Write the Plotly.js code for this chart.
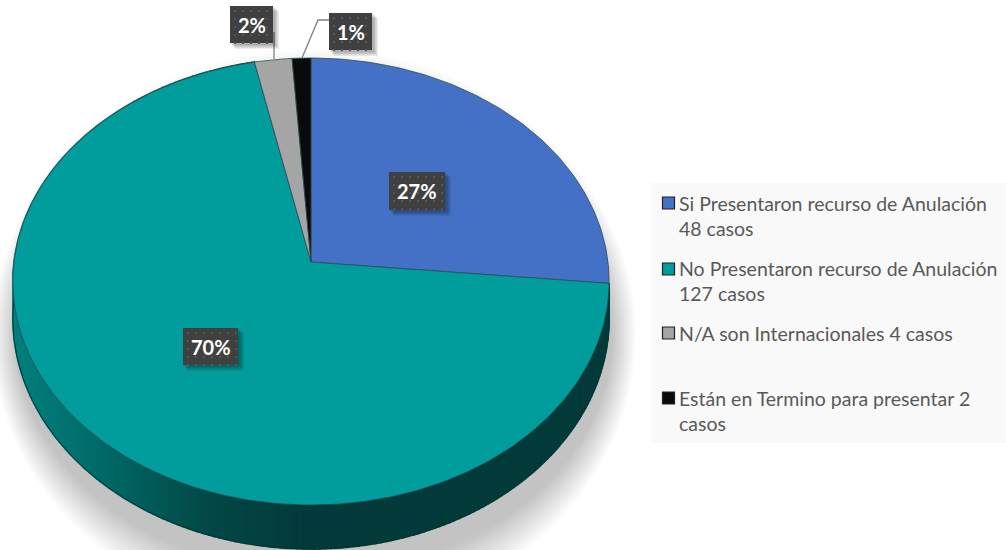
<!DOCTYPE html>
<html><head><meta charset="utf-8">
<script src="https://cdn.plot.ly/plotly-3.0.1.min.js"></script>
<style>html,body{margin:0;padding:0;background:#fff}#c{width:1006px;height:550px}</style>
</head><body><div id="c"></div>
<script>
const categories = ["Si Presentaron recurso de Anulación<br>48 casos","No Presentaron recurso de Anulación<br>127 casos","N/A son Internacionales 4 casos","Están en Termino para presentar 2<br>casos"];
const values = [48,127,4,2];
const percentLabels = ["27%","70%","2%","1%"];
const sliceColors = ["#4471c5","#019c9c","#a5a5a5","#0a0a0a"];
const FONT = "Lato, Carlito, sans-serif";

// pie geometry: perspective disc projected on the page
const cx=311, cy=262, b=297, a0=221.8, k=0.0872;
function proj(deg){const t=deg*Math.PI/180,u=Math.sin(t),v=Math.cos(t),w=1+k*v;return [cx+b*u/w, cy-a0*v/w, v];}
const total=values.reduce((s,v)=>s+v,0);
const traces=[];

// soft shadow under the pie
const N=30;
for(let i=0;i<N;i++){
  const t=1-i/(N-1), rx=298+t*24, ry=238+t*48, X=[],Y=[];
  for(let d=0;d<=360;d+=3){const r=d*Math.PI/180;X.push(314+rx*Math.cos(r));Y.push(335+ry*Math.sin(r));}
  traces.push({type:"scatter",x:X,y:Y,mode:"none",fill:"toself",fillcolor:"rgba(110,100,100,0.0135)",hoverinfo:"skip",showlegend:false});
}

// side wall of the disc
const wallStops=[[13,[0,128,125]],[100,[0,106,103]],[200,[2,74,72]],[300,[3,58,58]],[620,[3,58,58]]];
function wallColor(x){
  for(let i=1;i<wallStops.length;i++){
    if(x<=wallStops[i][0]){
      const [x0,c0]=wallStops[i-1],[x1,c1]=wallStops[i],f=Math.max(0,(x-x0)/(x1-x0));
      return "rgb("+c0.map((c,j)=>Math.round(c+(c1[j]-c)*f)).join(",")+")";
    }
  }
  return "rgb(3,58,58)";
}
const depth=v=>36+8*Math.max(0,-v);
const wallStart=values[0]/total*360, wallEnd=(values[0]+values[1])/total*360, step=1;
const edgeX=[],edgeY=[];
for(let d=wallStart;d<wallEnd;d+=step){
  const p=proj(d),q=proj(Math.min(d+step,wallEnd)),col=wallColor((p[0]+q[0])/2);
  traces.push({type:"scatter",x:[p[0],q[0],q[0],p[0],p[0]],y:[p[1],q[1],q[1]+depth(q[2]),p[1]+depth(p[2]),p[1]],
    mode:"lines",fill:"toself",fillcolor:col,line:{color:col,width:1.6},hoverinfo:"skip",showlegend:false});
  edgeX.push(p[0]);edgeY.push(p[1]+depth(p[2]));
}
traces.push({type:"scatter",x:edgeX,y:edgeY,mode:"lines",line:{color:"#043535",width:1},hoverinfo:"skip",showlegend:false});

// top face slices
let acc=0;
values.forEach((v,i)=>{
  const s=acc/total*360,e=(acc+v)/total*360;acc+=v;
  const X=[cx],Y=[cy];
  for(let d=s;d<e;d+=1){const p=proj(d);X.push(p[0]);Y.push(p[1]);}
  const p=proj(e);X.push(p[0],cx);Y.push(p[1],cy);
  traces.push({type:"scatter",x:X,y:Y,name:categories[i],mode:"lines",fill:"toself",fillcolor:sliceColors[i],
    line:{color:"#2c4a55",width:0.8},hoverinfo:"skip",showlegend:false});
});

// data label boxes [left, top, right, bottom]
const labelBoxes=[[389,172,445,210],[183,328,238,365],[230,6,273,43],[329,13,372,50]];
const shapes=[];
const ann=[];
// legend panel
shapes.push({type:"rect",layer:"below",x0:651,x1:1006,y0:183,y1:443,fillcolor:"#f9f9f9",line:{width:0}});
// leader lines
shapes.push({type:"path",path:"M274,32 L274,59",line:{color:"#808080",width:1.3}});
shapes.push({type:"path",path:"M329,20 L318,20 L302,58",line:{color:"#808080",width:1.3}});
labelBoxes.forEach((bx,i)=>{
  for(let s=1;s<=5;s++){
    shapes.push({type:"rect",x0:bx[0]+s,x1:bx[2]+s+1,y0:bx[1]+s,y1:bx[3]+s+1,fillcolor:"rgba(0,0,0,0.07)",line:{width:0}});
  }
  shapes.push({type:"rect",x0:bx[0],x1:bx[2],y0:bx[1],y1:bx[3],fillcolor:"#404040",line:{width:0}});
  for(let x=bx[0]+4;x<bx[2];x+=8)for(let y=bx[1]+4;y<bx[3];y+=8){
    shapes.push({type:"rect",x0:x,x1:x+2,y0:y,y1:y+2,fillcolor:"#565656",line:{width:0}});
  }
  ann.push({x:(bx[0]+bx[2])/2,y:(bx[1]+bx[3])/2,xref:"x",yref:"y",text:"<b>"+percentLabels[i]+"</b>",showarrow:false,
    xanchor:"center",yanchor:"middle",font:{family:FONT,size:20,color:"#ffffff"}});
});
// legend
const swatchTops=[197,263,327,392], legendCenters=[215.5,281,333,411];
categories.forEach((c,i)=>{
  shapes.push({type:"rect",x0:662.5,x1:674.5,y0:swatchTops[i],y1:swatchTops[i]+12,fillcolor:sliceColors[i],line:{color:"#222222",width:1.2}});
  ann.push({x:677,y:legendCenters[i],xref:"x",yref:"y",text:c,showarrow:false,xanchor:"left",yanchor:"middle",align:"left",
    font:{family:FONT,size:19.5,color:"#595959"}});
});

Plotly.newPlot("c",traces,{
  width:1006,height:550,margin:{l:0,r:0,t:0,b:0},paper_bgcolor:"#ffffff",plot_bgcolor:"#ffffff",
  xaxis:{range:[0,1006],visible:false,fixedrange:true},
  yaxis:{range:[550,0],visible:false,fixedrange:true},
  showlegend:false,hovermode:false,shapes:shapes,annotations:ann
},{staticPlot:true,displayModeBar:false});
</script></body></html>
